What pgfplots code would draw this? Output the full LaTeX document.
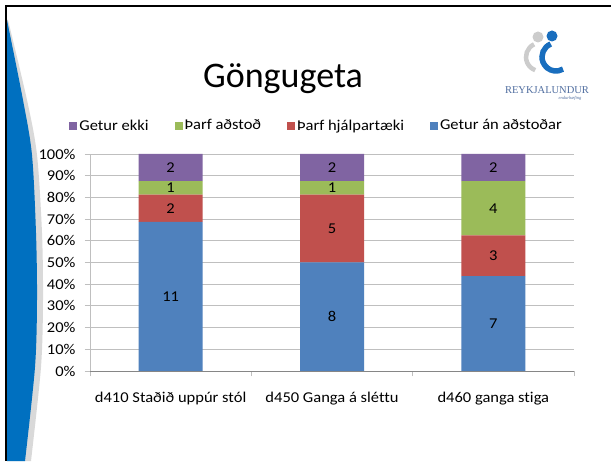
\documentclass[border=0pt]{standalone}
\usepackage{fontspec}
\setmainfont{Carlito}
\newfontfamily\chartfont{Carlito}[FakeStretch=1.1, Ligatures=NoCommon]
\newfontfamily\logofont{Liberation Serif}
\usepackage{pgfplots}
\pgfplotsset{compat=1.18}
\usepackage{pgfplotstable}
\definecolor{cBlue}{HTML}{4F81BD}
\definecolor{cRed}{HTML}{C0504D}
\definecolor{cGreen}{HTML}{9BBB59}
\definecolor{cPurple}{HTML}{8064A2}
\definecolor{slideBlue}{RGB}{0,112,192}
\definecolor{logoBlue}{RGB}{25,110,190}
\definecolor{logoText}{RGB}{80,110,160}
\definecolor{gridc}{HTML}{BFBFBF}
\definecolor{axisc}{HTML}{868686}

\pgfplotstableread{
x pct n
0 68.75 11
1 50 8
2 43.75 7
}\tblA
\pgfplotstableread{
x pct n
0 12.5 2
1 31.25 5
2 18.75 3
}\tblB
\pgfplotstableread{
x pct n
0 6.25 1
1 6.25 1
2 25 4
}\tblC
\pgfplotstableread{
x pct n
0 12.5 2
1 12.5 2
2 12.5 2
}\tblD

\newcommand\lblfont{\chartfont\fontsize{15}{18}\selectfont}

\begin{document}
\begin{tikzpicture}[x=1pt,y=1pt]
\useasboundingbox (0,0) rectangle (611,461);
\fill[white] (0,0) rectangle (611,461);
% slide decoration
\fill[gray!30] (7,0) -- plot[smooth] coordinates {(31,0)(41,94)(43,161)(42,228)(37,306)(27,361)(8,441)} -- (7,441) -- cycle;
\fill[slideBlue] (7,0) -- plot[smooth] coordinates {(25,0)(35,94)(37,161)(36,228)(32,306)(23,361)(7,441)} -- cycle;
\fill[black] (5,0) rectangle (7,456);
\fill[black] (5,454) rectangle (611,456);
% title
\node[anchor=base, inner sep=0pt, font=\fontsize{36}{40}\selectfont] at (283,373.5) {Göngugeta};
% logo
\fill[gray!40] (538,424) circle (5.5);
\fill[logoBlue] (552,425) circle (5.5);
\draw[gray!40, line width=4.5pt] (540,404) ++(115:14) arc[start angle=115, end angle=250, radius=14];
\draw[logoBlue, line width=5.5pt] (556,404) ++(112:14) arc[start angle=112, end angle=300, radius=14];
\node[inner sep=0pt, text=logoText, font=\logofont\fontsize{10.5}{12}\selectfont] at (547,371) {REYKJALUNDUR};
\node[inner sep=0pt, text=logoText, font=\logofont\itshape\fontsize{4.5}{5}\selectfont] at (570,363) {endurhæfing};

\begin{axis}[
  at={(90pt,90pt)}, anchor=south west,
  scale only axis, width=484pt, height=217pt,
  ybar stacked, bar width=64pt,
  xmin=-0.5, xmax=2.5, ymin=0, ymax=100,
  axis x line*=bottom, axis y line*=left,
  x axis line style={draw=axisc, line width=0.8pt},
  y axis line style={draw=gridc, line width=0.8pt},
  ytick={0,10,...,100},
  yticklabel={\pgfmathprintnumber{\tick}\%},
  ymajorgrids, grid style={draw=gridc, line width=0.8pt},
  tick align=outside, major tick length=5pt,
  y tick style={draw=gridc, line width=0.8pt},
  x tick style={draw=gridc, line width=0.8pt},
  xtick={-0.5,0.5,1.5,2.5}, xticklabels={},
  extra x ticks={0,1,2},
  extra x tick labels={d410 Staðið uppúr stól, d450 Ganga á sléttu, d460 ganga stiga},
  extra x tick style={major tick length=0pt, tick label style={yshift=-18pt}},
  /pgf/number format/assume math mode=true,
  tick label style={font=\lblfont, text=black},
  yticklabel style={xshift=-6pt},
  legend columns=4, reverse legend,
  legend style={draw=none, fill=none, inner sep=0pt, font=\lblfont,
    at={(axis description cs:-0.043,1.131)}, anchor=west,
    /tikz/every even column/.append style={column sep=24pt}},
  legend cell align=left,
  point meta=explicit symbolic,
  nodes near coords,
  every node near coord/.append style={font=\lblfont, text=black, anchor=center},
  myleg/.style={legend image code/.code={\fill[##1] (0pt,-4pt) rectangle (8pt,4pt);}},
]
\addplot[fill=cBlue, draw=none, myleg] table[x=x, y=pct, meta=n] {\tblA};
\addplot[fill=cRed, draw=none, myleg] table[x=x, y=pct, meta=n] {\tblB};
\addplot[fill=cGreen, draw=none, myleg] table[x=x, y=pct, meta=n] {\tblC};
\addplot[fill=cPurple, draw=none, myleg] table[x=x, y=pct, meta=n] {\tblD};
\legend{Getur án aðstoðar, Þarf hjálpartæki, Þarf aðstoð, Getur ekki}
\end{axis}
\end{tikzpicture}
\end{document}
